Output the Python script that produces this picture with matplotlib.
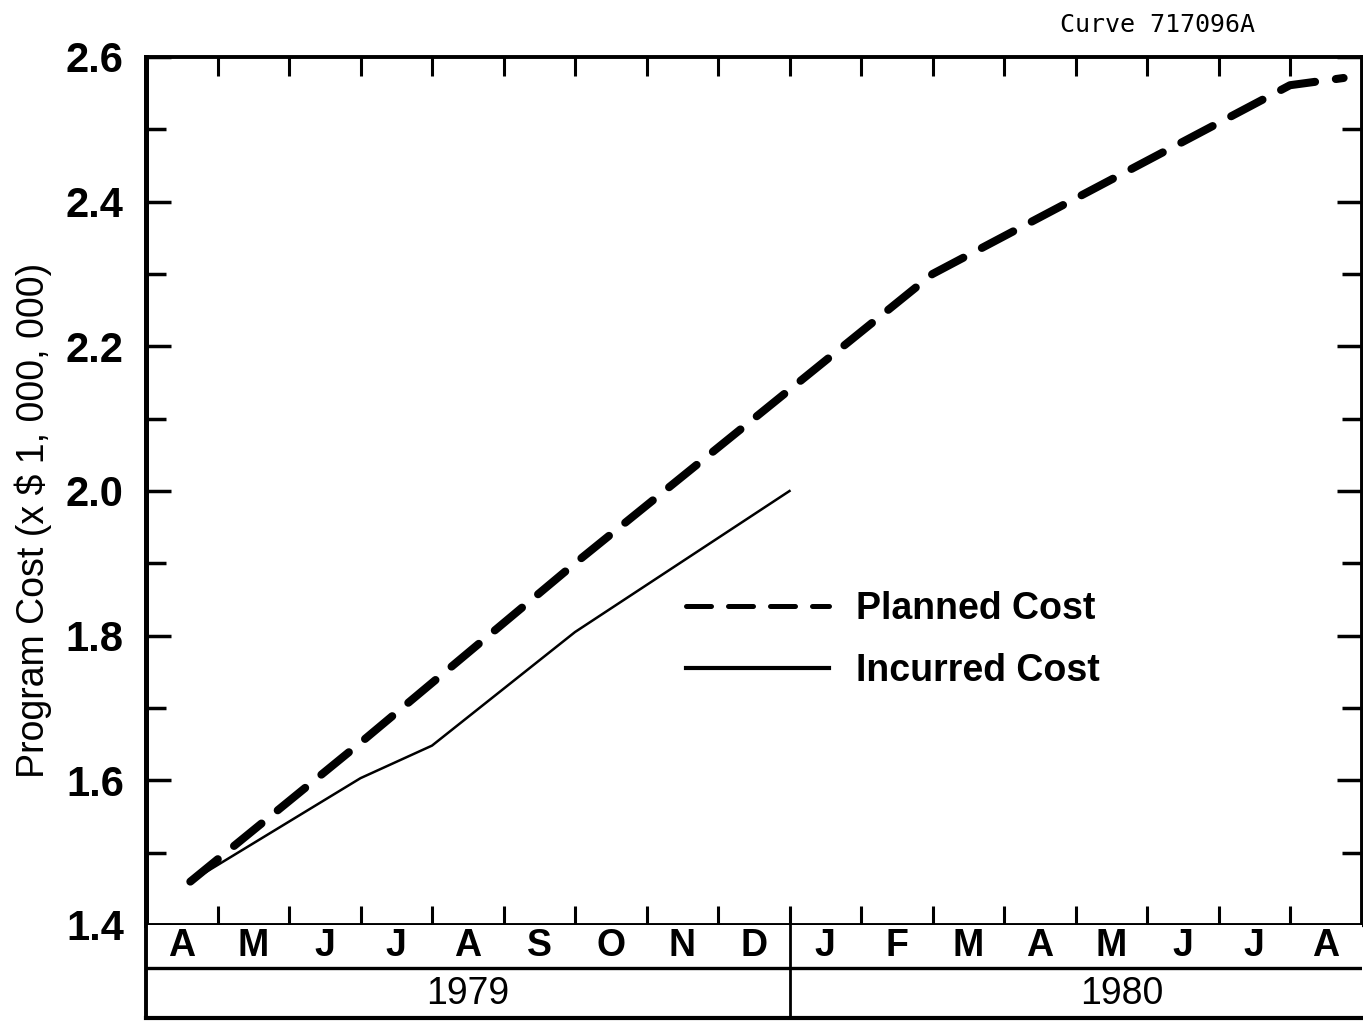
import matplotlib.pyplot as plt
from matplotlib.lines import Line2D

FONT = 'Liberation Sans'

# months counted from 1 Apr 1979
planned_month = [0.62, 3, 6, 9, 11, 16, 16.75]
planned_cost = [1.46, 1.652, 1.90, 2.14, 2.30, 2.561, 2.571]

incurred_month = [0.62, 3, 4, 6, 9]
incurred_cost = [1.46, 1.603, 1.648, 1.805, 2.0]

month_letters = ['A', 'M', 'J', 'J', 'A', 'S', 'O', 'N', 'D',
                 'J', 'F', 'M', 'A', 'M', 'J', 'J', 'A']
years = ['1979', '1980']
year_pos = [4.5, 13.65]

fig = plt.figure(figsize=(13.63, 10.23), dpi=100)
W, H = 1363, 1023
x0 = 146 / W
w = 17 * 71.5 / W
ax = fig.add_axes([x0, (H - 925) / H, w, 868 / H])
tab = fig.add_axes([x0, (H - 1018) / H, w, 93 / H])

ax.plot(planned_month, planned_cost, color='black', lw=5.8,
        dashes=(4.4, 2.6), dash_capstyle='round', solid_capstyle='round')
ax.plot(incurred_month, incurred_cost, color='black', lw=1.8)

ax.set_xlim(0, 17)
ax.set_ylim(1.4, 2.6)
ax.set_xticks(range(1, 17))
ax.set_yticks([1.4, 1.6, 1.8, 2.0, 2.2, 2.4, 2.6])
ax.set_yticks([1.5, 1.7, 1.9, 2.1, 2.3, 2.5], minor=True)
ax.yaxis.set_major_formatter(plt.FormatStrFormatter('%.1f'))
ax.tick_params(axis='x', which='both', direction='in', top=True, bottom=True,
               length=14, width=2.2, labelbottom=False)
ax.tick_params(axis='y', which='major', direction='in', left=True, right=True,
               length=18, width=2.5, pad=16, labelsize=30)
ax.tick_params(axis='y', which='minor', direction='in', left=True, right=True,
               length=14.5, width=2.5)
for lab in ax.get_yticklabels():
    lab.set_fontfamily(FONT)
    lab.set_fontweight('bold')
for side, lw in [('left', 3.6), ('top', 2.8), ('bottom', 2.8), ('right', 2.8)]:
    ax.spines[side].set_linewidth(lw)

ax.set_ylabel('Program Cost (x $ 1, 000, 000)', fontsize=27, family=FONT)
ax.yaxis.set_label_coords((52 - 146) / 1215.5, (925 - 520) / 868)

handles = [Line2D([], [], color='black', lw=3.6, dashes=(5, 3.4),
                  dash_capstyle='round'),
           Line2D([], [], color='black', lw=3.0)]
ax.legend(handles, ['Planned Cost', 'Incurred Cost'], frameon=False,
          loc='upper left', bbox_to_anchor=(686 / W, 1 - 591 / H),
          bbox_transform=fig.transFigure, borderpad=0, borderaxespad=0,
          handlelength=3.8, handletextpad=0.72, labelspacing=0.7,
          prop={'family': FONT, 'weight': 'bold', 'size': 27})

# month / year strip under the plot
tab.set_xlim(0, 17)
tab.set_ylim(0, 1)
tab.set_xticks([])
tab.set_yticks([])
tab.spines['right'].set_visible(False)
tab.spines['top'].set_visible(False)
tab.spines['left'].set_linewidth(2.8)
tab.spines['bottom'].set_linewidth(3.0)
tab.axhline(50 / 93, color='black', lw=2.4)
tab.axvline(9, color='black', lw=2.0)
for i, m in enumerate(month_letters):
    tab.text(i + 0.5, 0.77, m, ha='center', va='center', fontsize=27,
             family=FONT, fontweight='bold')
for yr, p in zip(years, year_pos):
    tab.text(p, 0.26, yr, ha='center', va='center', fontsize=27, family=FONT)

fig.text(1158 / W, 1 - 25 / H, 'Curve 717096A', ha='center', va='center',
         fontsize=18, family='DejaVu Sans Mono')

fig.savefig('out.png', dpi=100)
